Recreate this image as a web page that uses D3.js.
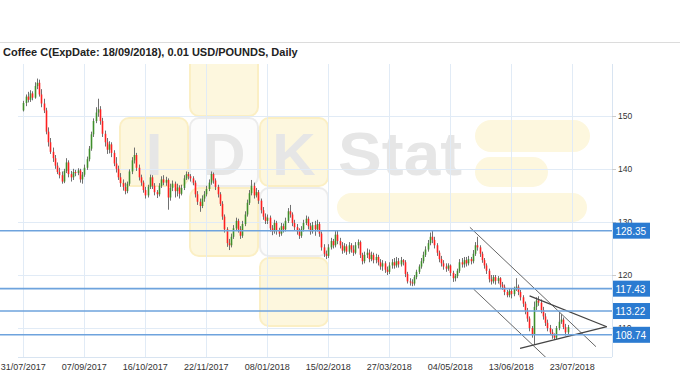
<!DOCTYPE html>
<html>
<head>
<meta charset="utf-8">
<script src="https://cdn.jsdelivr.net/npm/d3@7"></script>
<style>
  body { margin: 0; background: #fff; }
  svg { display: block; font-family: "Liberation Sans", Arial, sans-serif; }
</style>
</head>
<body>
<div id="chart"></div>
<script>
// Daily Coffee C candles, one entry per trading day (31/07/2017 .. 19/07/2018)
const opens = [
  151.0,152.4,153.6,153.0,154.2,153.4,155.6,156.2,154.0,152.3,
  151.0,147.0,145.0,143.2,142.0,140.6,139.4,138.8,137.6,139.6,
  141.2,139.0,138.4,139.4,139.2,139.7,138.0,138.9,140.2,141.8,
  143.8,146.5,149.0,150.6,151.2,149.0,146.6,145.0,143.6,144.6,
  143.0,141.0,140.0,138.4,137.3,136.6,135.8,137.2,139.5,141.6,
  142.6,140.2,138.4,137.4,136.0,135.0,136.6,138.4,136.8,135.6,
  135.2,136.8,138.0,137.4,137.9,134.6,136.4,137.2,135.8,136.5,
  135.3,136.4,138.2,139.0,138.6,138.2,137.4,135.2,133.8,133.0,
  134.4,135.2,136.2,137.4,139.0,137.8,136.6,135.2,133.4,131.0,
  128.6,126.0,125.6,127.2,128.8,130.2,128.6,127.4,129.6,131.4,
  133.6,135.4,136.8,135.0,135.6,134.0,132.2,131.0,130.2,130.8,
  128.8,128.2,129.8,128.4,127.8,129.2,128.6,130.2,132.0,131.4,
  129.8,129.0,128.2,127.4,128.6,129.8,130.6,129.2,128.2,129.4,
  128.6,129.6,127.8,125.2,124.0,123.6,125.2,126.4,125.6,127.6,
  126.4,125.6,124.6,125.4,124.4,125.6,124.8,124.2,125.6,126.2,
  123.8,122.6,123.8,124.2,123.0,123.8,122.8,123.4,122.4,121.6,
  122.2,121.0,120.6,121.8,122.4,121.8,122.6,122.0,122.8,122.4,
  120.2,118.8,118.6,118.4,119.6,120.6,121.6,122.6,123.8,124.8,
  126.0,127.2,126.6,125.6,124.2,123.0,122.2,121.6,121.2,121.8,
  120.4,119.4,119.8,120.8,122.4,122.0,122.8,122.2,123.0,122.6,
  124.0,125.6,125.2,124.0,122.8,121.8,120.8,119.2,118.8,119.6,
  118.9,119.4,118.2,117.8,116.8,116.2,117.0,116.4,117.4,117.8,
  116.8,115.8,114.6,113.2,111.8,110.0,108.8,114.0,115.2,114.8,
  113.4,112.2,111.0,110.0,109.2,108.6,108.2,110.0,111.2,111.6,
  110.2,109.2
];
const highs = [
  152.8,154.0,154.5,154.8,154.6,156.3,157.0,156.8,155.0,153.2,
  151.5,147.8,145.8,144.0,142.6,141.2,140.2,139.5,140.0,142.0,
  141.6,139.6,140.0,139.8,140.1,140.0,139.4,140.8,142.3,144.3,
  147.0,149.5,151.6,153.2,151.8,149.6,147.2,145.8,145.2,145.0,
  143.5,142.2,140.6,139.2,138.0,137.4,137.6,139.9,142.2,144.0,
  143.0,140.8,138.9,137.8,136.6,137.0,138.9,138.8,137.3,136.0,
  137.3,138.6,138.8,138.5,138.2,137.2,137.8,137.6,137.2,136.9,
  137.0,138.8,139.5,139.4,139.0,138.6,137.8,135.8,134.4,135.0,
  135.8,136.8,138.0,139.5,139.3,138.2,137.0,135.6,133.9,131.4,
  129.0,126.8,127.8,129.4,130.8,130.6,129.2,130.2,132.0,134.2,
  136.0,137.9,137.4,136.4,136.0,134.4,132.8,131.6,131.4,131.2,
  129.4,130.4,130.2,128.9,129.8,129.7,130.8,132.6,133.2,131.8,
  130.4,129.6,128.8,129.2,130.4,131.2,131.0,129.8,130.0,130.2,
  130.4,130.0,128.2,125.8,124.6,125.8,127.0,126.8,128.4,128.3,
  127.0,126.2,126.0,125.8,126.2,126.0,125.6,126.2,126.7,126.5,
  124.2,124.4,125.0,124.8,124.4,124.2,124.0,123.8,123.0,122.8,
  122.6,121.6,122.4,123.0,123.2,123.4,123.2,123.4,123.0,122.8,
  120.6,119.4,119.2,120.0,121.0,122.0,123.2,124.4,125.4,126.6,
  128.0,128.3,127.2,126.0,124.6,123.6,122.8,122.2,122.2,122.0,
  120.8,120.2,121.2,123.0,123.2,123.4,123.4,123.6,123.4,124.7,
  126.2,127.2,125.6,124.4,123.2,122.2,121.2,120.0,120.0,120.0,
  119.8,119.6,118.7,118.2,117.2,117.4,117.4,117.8,119.4,118.2,
  117.2,116.2,115.0,113.8,112.2,110.4,115.0,115.8,116.0,115.4,
  114.0,112.8,111.6,110.6,109.8,109.0,110.4,113.0,112.6,112.0,
  110.8,110.6
];
const lows = [
  150.8,151.8,152.5,152.6,152.9,153.2,155.0,153.6,151.6,150.5,
  146.5,144.2,142.8,141.3,140.0,139.0,138.2,137.2,137.3,139.2,
  138.4,137.6,137.9,138.6,138.8,137.4,137.2,138.5,139.8,141.4,
  143.4,146.0,148.6,149.8,148.3,146.0,144.2,142.8,142.9,142.2,
  140.5,139.3,137.9,136.6,135.9,135.2,135.4,136.8,139.0,141.0,
  139.6,137.8,136.8,135.5,134.4,134.6,136.2,136.2,135.0,134.5,
  134.8,136.4,136.9,136.8,132.3,134.0,135.8,134.6,134.8,134.4,
  135.0,136.0,137.9,138.0,137.6,136.9,134.6,133.2,131.9,132.6,
  133.8,134.8,135.8,137.0,137.2,136.0,134.6,133.0,130.4,128.0,
  125.3,124.7,125.2,126.8,128.4,128.0,126.8,127.0,129.2,131.0,
  133.2,135.0,134.4,134.6,133.4,131.6,130.4,129.6,129.6,128.2,
  127.5,127.8,127.6,127.2,127.4,128.0,128.2,129.8,130.8,129.2,
  128.4,127.6,126.8,127.0,128.2,129.4,128.6,127.6,127.8,127.4,
  128.2,127.2,124.6,123.4,123.0,123.2,124.8,125.0,125.2,125.8,
  125.0,124.0,124.2,123.8,124.0,124.2,123.6,123.9,125.0,123.2,
  122.0,122.2,123.2,122.4,122.6,122.2,122.2,121.8,121.0,120.8,
  120.4,120.0,120.2,121.2,121.2,121.4,121.4,121.6,121.8,119.6,
  118.4,118.0,117.9,118.0,119.2,120.2,121.2,122.2,123.4,124.4,
  125.6,126.0,125.0,123.6,122.4,121.6,121.0,120.6,120.8,119.8,
  118.7,118.8,119.4,120.4,121.4,121.4,121.6,121.8,122.0,122.2,
  123.6,124.6,123.4,122.3,121.2,120.2,118.6,118.2,118.4,118.2,
  118.4,117.6,117.2,116.2,115.8,115.8,115.6,116.0,117.0,116.2,
  115.2,114.0,112.6,111.2,109.4,108.2,106.8,113.4,114.2,112.8,
  111.6,110.4,109.4,108.8,108.0,107.8,107.9,109.6,110.8,109.8,
  108.6,108.8
];
const closes = [
  152.4,153.6,153.0,154.2,153.4,155.6,156.2,154.0,152.3,151.0,
  147.0,145.0,143.2,142.0,140.6,139.4,138.8,137.6,139.6,141.2,
  139.0,138.4,139.4,139.2,139.7,138.0,138.9,140.2,141.8,143.8,
  146.5,149.0,150.6,151.2,149.0,146.6,145.0,143.6,144.6,143.0,
  141.0,140.0,138.4,137.3,136.6,135.8,137.2,139.5,141.6,142.6,
  140.2,138.4,137.4,136.0,135.0,136.6,138.4,136.8,135.6,135.2,
  136.8,138.0,137.4,137.9,134.6,136.4,137.2,135.8,136.5,135.3,
  136.4,138.2,139.0,138.6,138.2,137.4,135.2,133.8,133.0,134.4,
  135.2,136.2,137.4,139.0,137.8,136.6,135.2,133.4,131.0,128.6,
  126.0,125.6,127.2,128.8,130.2,128.6,127.4,129.6,131.4,133.6,
  135.4,136.8,135.0,135.6,134.0,132.2,131.0,130.2,130.8,128.8,
  128.2,129.8,128.4,127.8,129.2,128.6,130.2,132.0,131.4,129.8,
  129.0,128.2,127.4,128.6,129.8,130.6,129.2,128.2,129.4,128.6,
  129.6,127.8,125.2,124.0,123.6,125.2,126.4,125.6,127.6,126.4,
  125.6,124.6,125.4,124.4,125.6,124.8,124.2,125.6,126.2,123.8,
  122.6,123.8,124.2,123.0,123.8,122.8,123.4,122.4,121.6,122.2,
  121.0,120.6,121.8,122.4,121.8,122.6,122.0,122.8,122.4,120.2,
  118.8,118.6,118.4,119.6,120.6,121.6,122.6,123.8,124.8,126.0,
  127.2,126.6,125.6,124.2,123.0,122.2,121.6,121.2,121.8,120.4,
  119.4,119.8,120.8,122.4,122.0,122.8,122.2,123.0,122.6,124.0,
  125.6,125.2,124.0,122.8,121.8,120.8,119.2,118.8,119.6,118.9,
  119.4,118.2,117.8,116.8,116.2,117.0,116.4,117.4,117.8,116.8,
  115.8,114.6,113.2,111.8,110.0,108.8,114.0,115.2,114.8,113.4,
  112.2,111.0,110.0,109.2,108.6,108.2,110.0,111.2,111.6,110.2,
  109.2,110.2
];

// x-axis labels and the bar index each one sits on
const tickLabels = ["31/07/2017","07/09/2017","16/10/2017","22/11/2017","08/01/2018",
                    "15/02/2018","27/03/2018","04/05/2018","13/06/2018","23/07/2018"];
const tickIdx = [0, 27, 54, 81, 108, 135, 162, 189, 216, 243];
const yTicks = [110, 120, 130, 140, 150];

// horizontal support / resistance levels
const levels = [128.35, 117.43, 113.22, 108.74];

// hand drawn trend lines: [barIndex, price] pairs
const trendLines = [
  [[197.7, 128.98], [253.5, 106.5]],
  [[199.3, 117.36], [233.0, 103.8]],
  [[224.1, 116.08], [258.3, 110.26]],
  [[219.9, 106.2], [258.3, 110.26]]
];

const W = 680, H = 380;
const plot = { left: 18, right: 612, top: 64, bottom: 357 };

const svg = d3.select("#chart").append("svg")
  .attr("width", W)
  .attr("height", H);

// title + thin top rule
svg.append("line")
  .attr("x1", 0).attr("x2", W).attr("y1", 42.5).attr("y2", 42.5)
  .attr("stroke", "#dcdcdc");
svg.append("text")
  .attr("x", 3).attr("y", 56)
  .attr("font-size", 11).attr("font-weight", "bold").attr("fill", "#222")
  .text("Coffee C(ExpDate: 18/09/2018), 0.01 USD/POUNDS, Daily");

const xScale = d3.scaleLinear().domain([-2.35, 260.6]).range([plot.left, plot.right]);
const yScale = d3.scaleLinear().domain([104.56, 159.74]).range([plot.bottom, plot.top]);

svg.append("defs").append("clipPath").attr("id", "clip")
  .append("rect")
  .attr("x", plot.left).attr("y", plot.top)
  .attr("width", plot.right - plot.left).attr("height", plot.bottom - plot.top);

const g = svg.append("g").attr("clip-path", "url(#clip)");

// watermark logo
const wm = g.append("g");
const yellow = { fill: "#fdf7de", stroke: "#fbefc4" };
const white = { fill: "#fcfcfc", stroke: "#ececec" };
const squares = [
  [190, 48, yellow], [120, 118, yellow], [190, 118, white], [260, 118, yellow],
  [190, 188, yellow], [260, 188, white], [260, 258, yellow]
];
squares.forEach(s => {
  wm.append("rect")
    .attr("x", s[0]).attr("y", s[1]).attr("width", 68).attr("height", 68)
    .attr("rx", 9)
    .attr("fill", s[2].fill).attr("stroke", s[2].stroke).attr("stroke-width", 2);
});
const pills = [[475, 120, 115, 32], [475, 157, 73, 30], [337, 193, 250, 29]];
pills.forEach(p => {
  wm.append("rect")
    .attr("x", p[0]).attr("y", p[1]).attr("width", p[2]).attr("height", p[3])
    .attr("rx", p[3] / 2)
    .attr("fill", "#fdf7de");
});
[["I", 154], ["D", 224], ["K", 294]].forEach(l => {
  wm.append("text")
    .attr("x", l[1]).attr("y", 175).attr("text-anchor", "middle")
    .attr("font-size", 60).attr("font-weight", "bold").attr("fill", "#e6e6e6")
    .text(l[0]);
});
wm.append("text")
  .attr("x", 338).attr("y", 175)
  .attr("font-size", 61).attr("font-weight", "bold").attr("fill", "#e6e6e6")
  .attr("textLength", 124).attr("lengthAdjust", "spacingAndGlyphs")
  .text("Stat");

// grid
const yGrid = [110, 120, 130, 140, 150, 160];
g.selectAll(".hgrid").data(yGrid).enter().append("line")
  .attr("x1", plot.left).attr("x2", plot.right)
  .attr("y1", d => Math.round(yScale(d)) + 0.5).attr("y2", d => Math.round(yScale(d)) + 0.5)
  .attr("stroke", "#e1ebf6");
g.selectAll(".vgrid").data(tickIdx).enter().append("line")
  .attr("y1", plot.top).attr("y2", plot.bottom)
  .attr("x1", d => Math.round(xScale(d)) + 0.5).attr("x2", d => Math.round(xScale(d)) + 0.5)
  .attr("stroke", "#e1ebf6");

// frame
svg.append("line")
  .attr("x1", plot.left).attr("x2", plot.right)
  .attr("y1", plot.bottom + 0.5).attr("y2", plot.bottom + 0.5)
  .attr("stroke", "#d8e4f1");
svg.append("line")
  .attr("x1", plot.right + 0.5).attr("x2", plot.right + 0.5)
  .attr("y1", plot.top).attr("y2", plot.bottom)
  .attr("stroke", "#d8e4f1");

// level lines
svg.selectAll(".level").data(levels).enter().append("line")
  .attr("x1", 0).attr("x2", plot.right)
  .attr("y1", d => yScale(d)).attr("y2", d => yScale(d))
  .attr("stroke", "#6ea3dd").attr("stroke-width", 1.6);

// candles
const candles = d3.range(closes.length).map(i => ({
  i: i, o: opens[i], h: highs[i], l: lows[i], c: closes[i]
}));
const cg = g.append("g");
cg.selectAll(".wick").data(candles).enter().append("line")
  .attr("x1", d => Math.round(xScale(d.i)) + 0.5)
  .attr("x2", d => Math.round(xScale(d.i)) + 0.5)
  .attr("y1", d => yScale(d.h)).attr("y2", d => yScale(d.l))
  .attr("stroke", "#707070").attr("stroke-width", 1);
cg.selectAll(".body").data(candles).enter().append("rect")
  .attr("x", d => Math.round(xScale(d.i)) - 0.3)
  .attr("width", 1.6)
  .attr("y", d => yScale(Math.max(d.o, d.c)))
  .attr("height", d => Math.max(1, Math.abs(yScale(d.o) - yScale(d.c))))
  .attr("fill", d => d.c >= d.o ? "#3f8f2b" : "#ff2020");

// trend lines
g.selectAll(".trend").data(trendLines).enter().append("line")
  .attr("x1", d => xScale(d[0][0])).attr("y1", d => yScale(d[0][1]))
  .attr("x2", d => xScale(d[1][0])).attr("y2", d => yScale(d[1][1]))
  .attr("stroke", (d, k) => k < 2 ? "#666" : "#444")
  .attr("stroke-width", (d, k) => k < 2 ? 1 : 1.3);

// right axis
const yAxis = svg.append("g");
yAxis.selectAll("line").data(yTicks).enter().append("line")
  .attr("x1", plot.right).attr("x2", plot.right + 4)
  .attr("y1", d => Math.round(yScale(d)) + 0.5).attr("y2", d => Math.round(yScale(d)) + 0.5)
  .attr("stroke", "#ccc");
yAxis.selectAll("text").data(yTicks).enter().append("text")
  .attr("x", plot.right + 6).attr("y", d => yScale(d) + 3)
  .attr("font-size", 8.5).attr("fill", "#333")
  .text(d => d);

// x axis labels
svg.selectAll(".xlab").data(tickIdx).enter().append("text")
  .attr("x", d => xScale(d)).attr("y", 370)
  .attr("text-anchor", "middle")
  .attr("font-size", 9).attr("fill", "#333")
  .text((d, k) => tickLabels[k]);

// level tags
const tags = svg.selectAll(".tag").data(levels).enter().append("g");
tags.append("rect")
  .attr("x", plot.right + 1).attr("y", d => yScale(d) - 8)
  .attr("width", 37).attr("height", 16)
  .attr("fill", "#2b7bd1");
tags.append("text")
  .attr("x", plot.right + 3.5).attr("y", d => yScale(d) + 4)
  .attr("font-size", 10).attr("fill", "#fff")
  .text(d => d.toFixed(2));
</script>
</body>
</html>
